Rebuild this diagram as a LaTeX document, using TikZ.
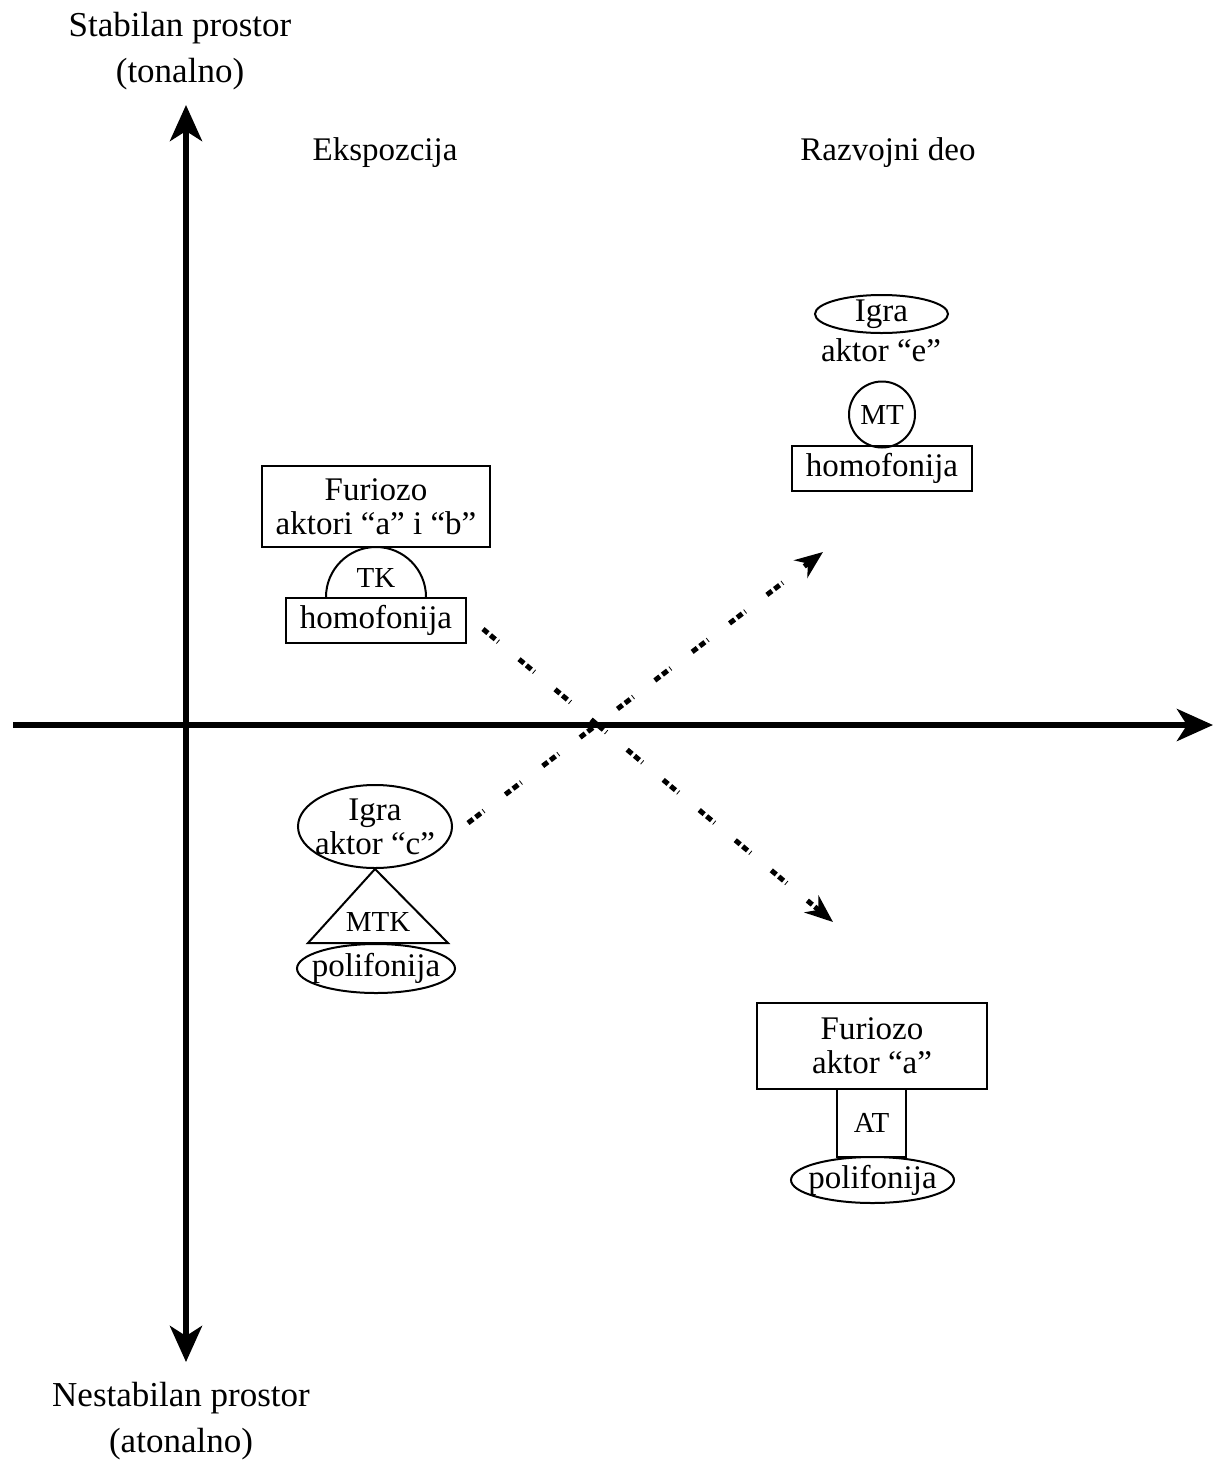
\documentclass[tikz,border=0pt]{standalone}
\usepackage{fontspec}
\setmainfont{Liberation Serif}
\usetikzlibrary{arrows.meta,shapes.geometric}

\begin{document}
\begin{tikzpicture}[
    x=0.5pt, y=-0.5pt,
    >={Stealth[length=18pt,width=16pt,inset=5pt]},
    axis/.style={line width=3pt},
    lbl/.style={align=center, font=\fontsize{17.5}{23}\selectfont},
    box/.style={draw, line width=1pt, align=center, inner sep=0pt,
      font=\fontsize{16.5}{17}\selectfont},
    oval/.style={draw, ellipse, line width=1pt, align=center, inner sep=-15pt,
      font=\fontsize{16.5}{17}\selectfont},
    tag/.style={inner sep=0pt, font=\fontsize{14.5}{15}\selectfont},
    dotarr/.style={line width=2.5pt,
      dash pattern=on 3.2pt off 1.6pt on 3.2pt off 1.6pt on 0.4pt off 13.5pt,
      -{Stealth[length=14pt,width=11pt,inset=4.5pt]}}
  ]
    \useasboundingbox (0,0) rectangle (1215,1468);
    \fill[white] (0,0) rectangle (1215,1468);

    \coordinate (ytop) at (186,105);
    \coordinate (ybot) at (186,1362);
    \coordinate (xleft) at (13,725);
    \coordinate (xright) at (1213,725);
    \draw[axis, <->] (ybot) -- (ytop);
    \draw[axis, ->] (xleft) -- (xright);

    \node[lbl] (stab) at (180,51) {Stabilan prostor\\(tonalno)};
    \node[lbl] (nestab) at (181,1421) {Nestabilan prostor\\(atonalno)};
    \node[lbl, font=\fontsize{16.5}{17}\selectfont] (eksp) at (385,153) {Ekspozcija};
    \node[lbl, font=\fontsize{16.5}{17}\selectfont] (razv) at (888,153) {Razvojni deo};

    \node[box, minimum width=114pt, minimum height=40.5pt] (furab) at (376,506.5) {Furiozo\\aktori “a” i “b”};
    \draw[line width=1pt] (326,597) arc[start angle=180, end angle=0, radius=25pt];
    \node[tag] (tk) at (376,578) {TK};
    \node[box, minimum width=90pt, minimum height=22.5pt] (homab) at (376,620.5) {homofonija};

    \node[oval, minimum width=77pt, minimum height=41.5pt] (igrac) at (375,826.5) {Igra\\aktor “c”};
    \draw[line width=1pt] (igrac.south) -- (448,943) -- (308,943) -- cycle;
    \node[tag] (mtk) at (378,922) {MTK};
    \node[oval, minimum width=79pt, minimum height=24.5pt] (polc) at (376,968.5) {polifonija};

    \node[oval, minimum width=66.5pt, minimum height=19pt] (igrae) at (881.5,314) {Igra};
    \node[box, draw=none] (akte) at (881,350) {aktor “e”};
    \node[circle, draw, line width=1pt, inner sep=0pt, minimum size=33pt, tag] (mt) at (882,414.5) {MT};
    \node[box, minimum width=90pt, minimum height=22.5pt] (home) at (882,468.5) {homofonija};

    \node[box, minimum width=115pt, minimum height=43pt] (fura) at (872,1046) {Furiozo\\aktor “a”};
    \node[box, tag, minimum width=34.5pt, minimum height=34pt] (at) at (871.5,1123) {AT};
    \node[oval, minimum width=81.5pt, minimum height=23pt] (pola) at (872.5,1180) {polifonija};

    \coordinate (d1s) at (483,629);
    \coordinate (d1e) at (833,922);
    \coordinate (d2s) at (468,823);
    \coordinate (d2e) at (823,552);
    \draw[dotarr] (d1s) -- (d1e);
    \draw[dotarr] (d2s) -- (d2e);
\end{tikzpicture}
\end{document}
